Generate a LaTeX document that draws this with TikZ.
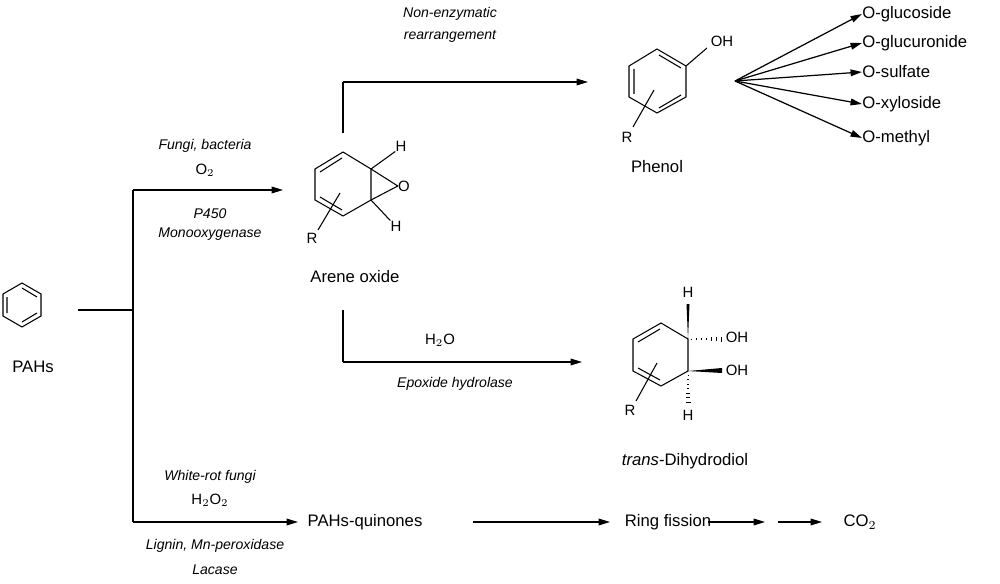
\documentclass[tikz,border=0pt]{standalone}
\usepackage{fontspec}
\setmainfont{Liberation Sans}
\usetikzlibrary{arrows.meta,decorations.markings}
\begin{document}
\begin{tikzpicture}[x=0.02cm,y=-0.02cm,
  lbl/.style={font=\fontsize{9.5}{11}\selectfont,inner sep=0},
  it/.style={font=\fontsize{8}{9.5}\selectfont\itshape,inner sep=0},
  atom/.style={font=\fontsize{8.5}{10}\selectfont,inner sep=0},
  arr/.style={-{Triangle[length=6.5pt,width=3.8pt]},line width=0.7pt},
  bond/.style={line width=0.6pt},
  line/.style={line width=0.7pt}]
\useasboundingbox (0,0) rectangle (1000,584);
% PAHs benzene
\coordinate (b1) at (22,283); \coordinate (b2) at (41,294); \coordinate (b3) at (41,316);
\coordinate (b4) at (22,327); \coordinate (b5) at (3,316); \coordinate (b6) at (3,294);
\draw[bond] (b1)--(b2)--(b3)--(b4)--(b5)--(b6)--cycle;
\draw[bond] (22,288)--(37,297) (37,313)--(22,322) (7,313)--(7,297);
\node[lbl] (pahs) at (33,367) {PAHs};
\coordinate (s0) at (78,310); \coordinate (s1) at (133,310);
\coordinate (t0) at (133,190); \coordinate (u0) at (133,522);
\draw[line] (s0)--(s1); \draw[line] (t0)--(u0);
\coordinate (t1) at (283,190);
\draw[arr] (t0)--(t1);
\node[it] (l1) at (205,146) {Fungi, bacteria};
\node[atom] (l2) at (205,170) {O$_2$};
\node[it] (l3) at (210,214) {P450};
\node[it] (l4) at (210,234) {Monooxygenase};
% Arene oxide
\coordinate (a1) at (343,152); \coordinate (a2) at (371,169); \coordinate (a3) at (371,200);
\coordinate (a4) at (343,216); \coordinate (a5) at (315,200); \coordinate (a6) at (315,169);
\draw[bond] (a1)--(a2)--(a3)--(a4)--(a5)--(a6)--cycle;
\draw[bond] (320,172)--(342,158) (320,197)--(342,210);
\node[atom] (ox) at (404,186) {O};
\draw[bond] (a2)--(ox.west) (a3)--(ox.west);
\node[atom] (h1) at (401,146) {H}; \node[atom] (h2) at (396,226) {H};
\draw[bond] (a2)--(h1.south west) (a3)--(h2.north west);
\node[atom] (ra) at (312,238) {R};
\draw[bond] (318,230)--(340,193);
\node[lbl] (arene) at (355,277) {Arene oxide};
% upper branch
\coordinate (p0) at (343,133); \coordinate (p1) at (343,82); \coordinate (p2) at (588,82);
\draw[line] (p0)--(p1); \draw[arr] (p1)--(p2);
\node[it] (l5) at (450,14) {Non-enzymatic};
\node[it] (l6) at (450,36) {rearrangement};
% Phenol
\coordinate (f1) at (657,49); \coordinate (f2) at (686,66); \coordinate (f3) at (686,97);
\coordinate (f4) at (657,113); \coordinate (f5) at (629,97); \coordinate (f6) at (629,66);
\draw[bond] (f1)--(f2)--(f3)--(f4)--(f5)--(f6)--cycle;
\draw[bond] (659,55)--(681,68) (681,95)--(659,108) (634,69)--(634,94);
\node[atom] (oh) at (722,41) {OH};
\draw[bond] (f2)--(707,48);
\node[atom] (rp) at (627,137) {R};
\draw[bond] (633,127)--(654,90);
\node[lbl] (phenol) at (657,167) {Phenol};
\coordinate (fan) at (735,81);
\foreach \n/\y/\t/\xe in {g1/14/O-glucoside/862,g2/43/O-glucuronide/862,g3/72/O-sulfate/862,g4/104/O-xyloside/862,g5/138/O-methyl/862}{
  \node[lbl,anchor=west] (\n) at (\xe,\y) {\t};
  \draw[arr] (fan)--(\n.west);
}
% lower branch
\coordinate (q0) at (343,310); \coordinate (q1) at (343,362); \coordinate (q2) at (582,362);
\draw[line] (q0)--(q1); \draw[arr] (q1)--(q2);
\node[atom] (l7) at (440,340) {H$_2$O};
\node[it] (l8) at (455,384) {Epoxide hydrolase};
% Dihydrodiol
\coordinate (d1) at (661,323); \coordinate (d2) at (688,339); \coordinate (d3) at (688,371);
\coordinate (d4) at (661,386); \coordinate (d5) at (633,371); \coordinate (d6) at (633,339);
\draw[bond] (d1)--(d2)--(d3)--(d4)--(d5)--(d6)--cycle;
\draw[bond] (638,342)--(660,329) (638,368)--(660,380);
\node[atom] (oh1) at (737,337) {OH}; \node[atom] (oh2) at (737,370) {OH};
\node[atom] (hd1) at (688,292) {H}; \node[atom] (hd2) at (688,415) {H};
\fill (d2) -- (686.5,304) -- (689.5,304) -- cycle;
\fill (d3) -- (722,368) -- (722,373) -- cycle;
\foreach \i in {0,...,6}{
  \pgfmathsetmacro\xx{691+\i*5}\pgfmathsetmacro\hh{0.4+\i*0.35}
  \draw[line width=0.5pt] (\xx,339-\hh) -- (\xx,339+\hh);
  \pgfmathsetmacro\yy{375+\i*4.5}
  \draw[line width=0.5pt] (688-\hh,\yy) -- (688+\hh,\yy);
}
\node[atom] (rd) at (630,410) {R};
\draw[bond] (636,401)--(657,363);
\node[lbl] (diol) at (685,461) {\textit{trans}-Dihydrodiol};
% bottom
\coordinate (u1) at (298,522);
\draw[arr] (u0)--(u1);
\node[it] (l9) at (210,477) {White-rot fungi};
\node[atom] (l10) at (210,500) {H$_2$O$_2$};
\node[it] (l11) at (215,546) {Lignin, Mn-peroxidase};
\node[it] (l12) at (215,570) {Lacase};
\node[lbl] (quin) at (365,522) {PAHs-quinones};
\node[lbl] (ring) at (668,522) {Ring fission};
\node[lbl] (co2) at (860,522) {CO$_2$};
\coordinate (m1) at (778,522);
\draw[arr] (473,522)--(ring.west -| 610,522);
\draw[arr] (ring.east -| 708,522)--(765,522);
\draw[arr] (m1)--(co2.west -| 822,522);
\end{tikzpicture}
\end{document}
